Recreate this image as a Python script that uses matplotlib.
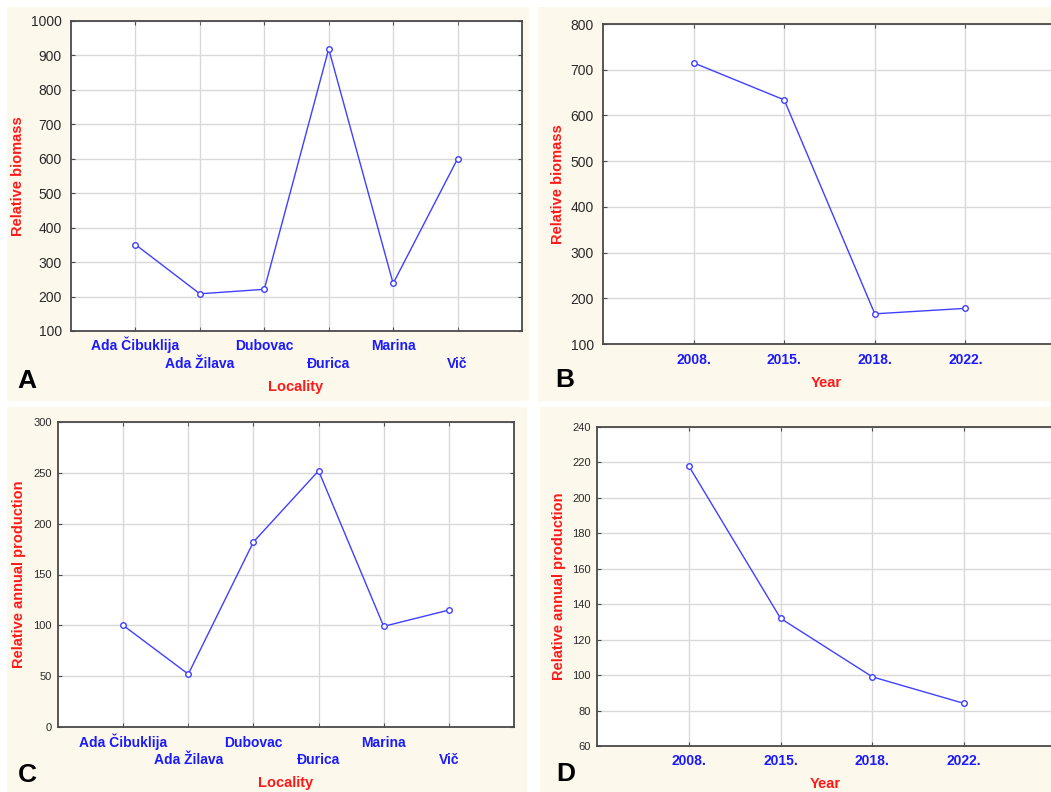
import matplotlib
matplotlib.use('Agg')
import matplotlib.pyplot as plt
from matplotlib.patches import Rectangle

localities = ['Ada Čibuklija', 'Ada Žilava', 'Dubovac', 'Đurica', 'Marina', 'Vič']
years = ['2008.', '2015.', '2018.', '2022.']

biomass_loc = [351, 208, 221, 919, 238, 600]
biomass_year = [715, 634, 166, 178]
prod_loc = [100, 52, 182, 252, 99, 115]
prod_year = [218, 132, 99, 84]

W = 1051
H = 792
BEIGE = '#fdf8ec'
BLUE = '#1a1aff'
RED = '#ff1a1a'
LINE = '#4040ff'

plt.rcParams['font.family'] = ['Liberation Sans', 'DejaVu Sans']

fig = plt.figure(figsize=(W / 100, H / 100), dpi=100)
fig.patch.set_facecolor('white')


def fx(x):
    return x / W


def fy(y):
    return 1 - y / H


# beige panel backgrounds (pixel boxes: left, top, right, bottom)
for l, t, r, b in [(7, 7, 529, 401), (538, 7, 1051, 401),
                   (7, 407, 527, 792), (540, 407, 1051, 792)]:
    fig.patches.append(Rectangle((fx(l), fy(b)), fx(r - l), (b - t) / H,
                                 transform=fig.transFigure, facecolor=BEIGE,
                                 edgecolor='none', zorder=-5))


def panel(box, labels, values, ylim, ystep, ysize, xlabel, ylabel,
          xlab_pos, ylab_pos, letter, letter_pos, stagger, pad1, pad2, ypad):
    l, t, r, b = box
    ax = fig.add_axes([fx(l), fy(b), fx(r - l), (b - t) / H])
    ax.set_facecolor('white')
    x = list(range(1, len(labels) + 1))
    ax.plot(x, values, color=LINE, lw=1.0, marker='o', ms=4,
            mfc='white', mec=LINE, mew=1.0, zorder=3)
    ax.set_xlim(0, len(labels) + 1)
    ax.set_ylim(ylim)
    ticks = list(range(ylim[0], ylim[1] + 1, ystep))
    ax.set_yticks(ticks)
    ax.set_yticklabels([str(v) for v in ticks], fontsize=ysize, color='#2a2a2a')
    if stagger:
        ax.set_xticks(x[0::2])
        ax.set_xticklabels(labels[0::2])
        ax.set_xticks(x[1::2], minor=True)
        ax.set_xticklabels(labels[1::2], minor=True)
    else:
        ax.set_xticks(x)
        ax.set_xticklabels(labels)
    ax.tick_params(axis='x', which='both', pad=pad1, direction='in', length=3,
                   top=True, color='#4a4a4a')
    if stagger:
        ax.tick_params(axis='x', which='minor', pad=pad2)
    ax.tick_params(axis='y', pad=ypad, direction='in', length=3, right=True,
                   color='#4a4a4a')
    # labels sit on a common baseline, as in the original
    for lab in ax.get_xticklabels(which='both'):
        lab.set_color(BLUE)
        lab.set_fontweight('bold')
        lab.set_fontsize(10)
        lab.set_va('baseline')
    ax.grid(True, which='both', color='#d9d9d9', lw=1.0, zorder=0)
    ax.set_axisbelow(True)
    for s in ax.spines.values():
        s.set_color('#4a4a4a')
        s.set_linewidth(1.3)
    ax.set_xlabel(xlabel, color=RED, fontweight='bold', fontsize=10.5)
    ax.set_ylabel(ylabel, color=RED, fontweight='bold', fontsize=10.5)
    ax.xaxis.set_label_coords(fx(xlab_pos[0]), fy(xlab_pos[1]), transform=fig.transFigure)
    ax.yaxis.set_label_coords(fx(ylab_pos[0]), fy(ylab_pos[1]), transform=fig.transFigure)
    ax.xaxis.label.set_va('center')
    ax.yaxis.label.set_va('center')
    fig.text(fx(letter_pos[0]), fy(letter_pos[1]), letter, fontsize=19,
             fontweight='bold', color='black', ha='center', va='center')
    return ax


panel((71, 21, 522, 331), localities, biomass_loc, (100, 1000), 100, 10,
      'Locality', 'Relative biomass', (296, 387), (18, 176), 'A', (27, 381),
      True, 13.7, 26.6, 6.5)
panel((603, 24, 1056, 344), years, biomass_year, (100, 800), 100, 10,
      'Year', 'Relative biomass', (826, 383), (558, 184), 'B', (565, 380),
      False, 14.4, 14.4, 6.5)
panel((58, 422, 514, 727), localities, prod_loc, (0, 300), 50, 8,
      'Locality', 'Relative annual production', (286, 783), (19, 574), 'C', (27, 775),
      True, 14.4, 26.6, 4.3)
panel((597, 427, 1056, 746), years, prod_year, (60, 240), 20, 8,
      'Year', 'Relative annual production', (825, 784), (559, 586), 'D', (566, 774),
      False, 13.7, 13.7, 4.3)

fig.savefig('out.png', dpi=100, facecolor=fig.get_facecolor())
